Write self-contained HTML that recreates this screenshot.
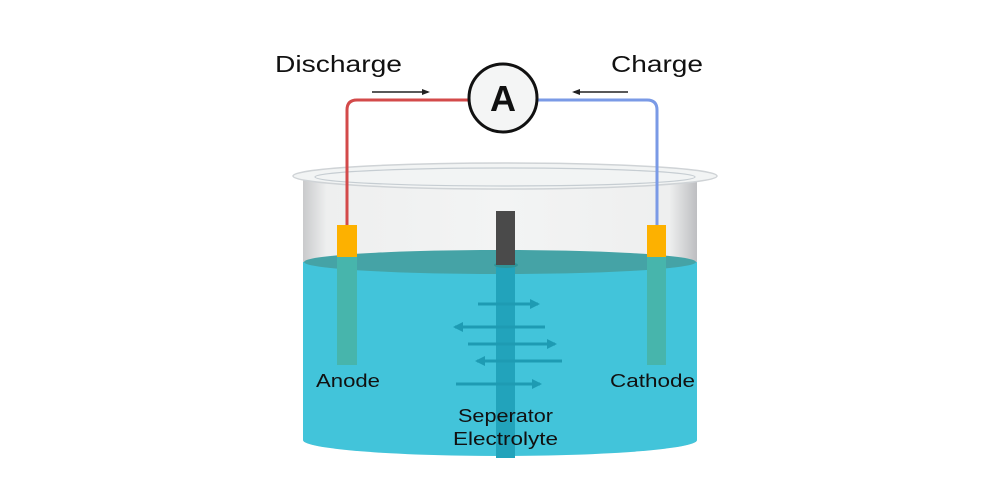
<!DOCTYPE html>
<html><head><style>html,body{margin:0;padding:0;background:#fff;}svg{display:block}</style></head>
<body>
<svg width="1000" height="500" viewBox="0 0 1000 500" xmlns="http://www.w3.org/2000/svg" font-family="Liberation Sans, sans-serif">
<defs>
<linearGradient id="glass" x1="0" x2="1" y1="0" y2="0">
<stop offset="0" stop-color="#c9cacc"/><stop offset="0.06" stop-color="#eeefef"/><stop offset="0.5" stop-color="#f3f4f4"/><stop offset="0.93" stop-color="#eeefef"/><stop offset="1" stop-color="#bdbec1"/>
</linearGradient>
<marker id="ah" markerWidth="10" markerHeight="10" refX="8" refY="5" orient="auto" markerUnits="userSpaceOnUse"><path d="M0,0 L10,5 L0,10 Z" fill="#1e9bb3"/></marker>
<marker id="bk" markerWidth="8" markerHeight="8" refX="6" refY="4" orient="auto" markerUnits="userSpaceOnUse"><path d="M0,1 L8,4 L0,7 Z" fill="#222"/></marker>
</defs>
<path d="M303,178 L303,440 A197,16 0 0 0 697,440 L697,178 Z" fill="url(#glass)"/>
<path d="M303,262 L303,440 A197,16 0 0 0 697,440 L697,262 Z" fill="#42c4da"/>
<ellipse cx="500" cy="262" rx="196" ry="12" fill="#45a3a6"/>
<rect x="496" y="264" width="19" height="194" fill="#22a3bb"/>
<ellipse cx="506" cy="265" rx="12" ry="3" fill="#2f9498"/>
<rect x="496" y="211" width="19" height="54" fill="#4a4a4a"/>
<rect x="337" y="225" width="20" height="32" fill="#fdb100"/>
<rect x="337" y="257" width="20" height="108" fill="#47b5ac"/>
<rect x="647" y="225" width="19" height="32" fill="#fdb100"/>
<rect x="647" y="257" width="19" height="108" fill="#47b5ac"/>
<ellipse cx="505" cy="176" rx="212" ry="13" fill="#f2f4f4" stroke="#cfd3d6" stroke-width="1.5"/>
<ellipse cx="505" cy="177" rx="190" ry="9" fill="none" stroke="#c6cdd2" stroke-width="1.2"/>
<path d="M347,225 L347,110 Q347,100 357,100 L470,100" fill="none" stroke="#d34a4a" stroke-width="3"/>
<path d="M536,100 L647,100 Q657,100 657,110 L657,225" fill="none" stroke="#7a9ae6" stroke-width="3"/>
<circle cx="503" cy="98" r="34" fill="#f4f5f5" stroke="#111" stroke-width="3"/>
<text x="503" y="111" text-anchor="middle" font-size="36" font-weight="bold" fill="#111">A</text>
<line x1="372" y1="92" x2="428" y2="92" stroke="#222" stroke-width="1.5" marker-end="url(#bk)"/>
<line x1="628" y1="92" x2="574" y2="92" stroke="#222" stroke-width="1.5" marker-end="url(#bk)"/>
<text x="275" y="72" font-size="23" fill="#111" textLength="127" lengthAdjust="spacingAndGlyphs">Discharge</text>
<text x="611" y="72" font-size="23" fill="#111" textLength="92" lengthAdjust="spacingAndGlyphs">Charge</text>
<g stroke="#1e9bb3" stroke-width="3" fill="none">
<line x1="478" y1="304" x2="538" y2="304" marker-end="url(#ah)"/>
<line x1="545" y1="327" x2="455" y2="327" marker-end="url(#ah)"/>
<line x1="468" y1="344" x2="555" y2="344" marker-end="url(#ah)"/>
<line x1="562" y1="361" x2="477" y2="361" marker-end="url(#ah)"/>
<line x1="456" y1="384" x2="540" y2="384" marker-end="url(#ah)"/>
</g>
<g font-size="18" fill="#111" lengthAdjust="spacingAndGlyphs">
<text x="316" y="387" textLength="64" lengthAdjust="spacingAndGlyphs">Anode</text>
<text x="610" y="387" textLength="85" lengthAdjust="spacingAndGlyphs">Cathode</text>
<text x="458" y="422" textLength="95" lengthAdjust="spacingAndGlyphs">Seperator</text>
<text x="453" y="445" textLength="105" lengthAdjust="spacingAndGlyphs">Electrolyte</text>
</g>
</svg>
</body></html>
